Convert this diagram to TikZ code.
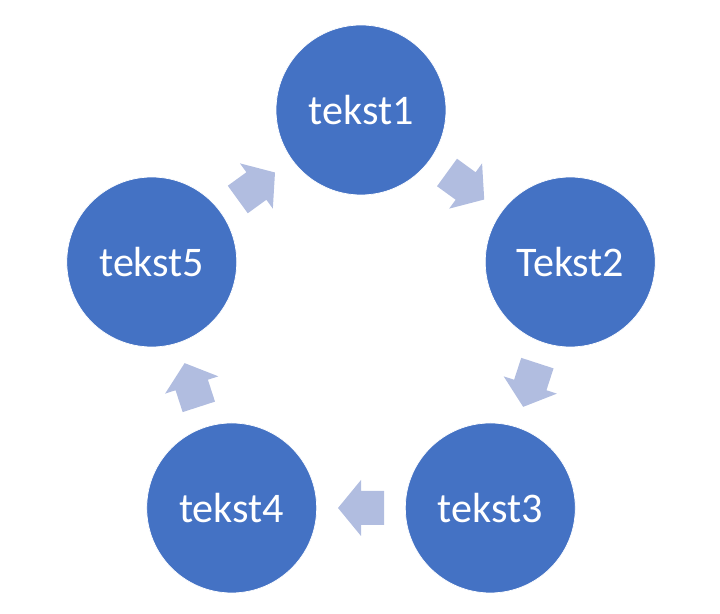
\documentclass[tikz,border=0pt]{standalone}
\usepackage{fontspec}
\setmainfont{Carlito}
\usepackage{tikz}
\usetikzlibrary{calc}
\usetikzlibrary{positioning}
\definecolor{cycblue}{RGB}{68,114,196}
\definecolor{cyclight}{RGB}{177,189,224}

\begin{document}
\begin{tikzpicture}[x=0.02cm,y=0.02cm]
\useasboundingbox (0,0) rectangle (720,614);

\def\rr{220}
\tikzstyle{circ} = [
	circle, draw=white, fill=cycblue, text=white, inner sep=0pt,
	minimum size=3.4cm, font=\fontsize{24}{28}\selectfont ];
\tikzset{
	blockarrow/.pic={
		\fill[cyclight] (-23,-17) -- (0,-17) -- (0,-28) -- (23,0)
			-- (0,28) -- (0,17) -- (-23,17) -- cycle;
	}
}

\coordinate (c) at (361,284);
\node[circ] (t1) at ($(c)+(90:\rr)$) {tekst1};
\node[circ] (t2) at ($(c)+(18:\rr)$) {Tekst2};
\node[circ] (t3) at ($(c)+(-54:\rr)$) {tekst3};
\node[circ] (t4) at ($(c)+(-126:\rr)$) {tekst4};
\node[circ] (t5) at ($(c)+(162:\rr)$) {tekst5};

% arrows between the circles
\pic[rotate=-36] at ($(t1)!0.5!(t2)$) {blockarrow};
\pic[rotate=-108] at ($(t2)!0.5!(t3)$) {blockarrow};
\pic[rotate=180] at ($(t3)!0.5!(t4)$) {blockarrow};
\pic[rotate=108] at ($(t4)!0.5!(t5)$) {blockarrow};
\pic[rotate=36] at ($(t5)!0.5!(t1)$) {blockarrow};

\end{tikzpicture}
\end{document}
